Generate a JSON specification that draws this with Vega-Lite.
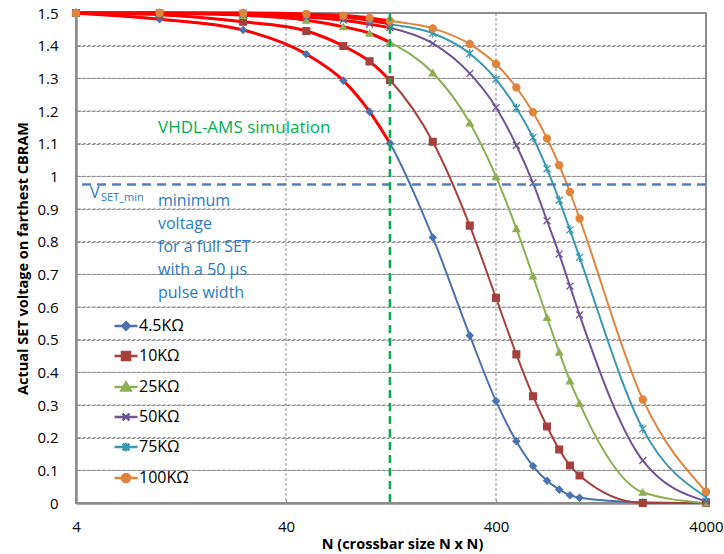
{
  "$schema": "https://vega.github.io/schema/vega-lite/v6.json",
  "width": 630,
  "height": 490,
  "autosize": {"type": "none"},
  "padding": {"left": 76, "top": 13, "right": 18, "bottom": 51},
  "background": "white",
  "config": {
    "view": {"stroke": "#8c8c8c", "strokeWidth": 2},
    "font": "Open Sans",
    "axis": {
      "domainColor": "#8c8c8c",
      "domainWidth": 2.5,
      "tickColor": "#8c8c8c",
      "tickWidth": 1,
      "tickSize": -4,
      "grid": false,
      "labelFont": "Open Sans",
      "labelFontSize": 15,
      "labelColor": "#000000",
      "titleFont": "Open Sans",
      "titleFontWeight": "bold",
      "titleFontSize": 14.5,
      "titleColor": "#000000"
    }
  },
  "resolve": {"scale": {"color": "independent", "stroke": "independent", "shape": "independent", "size": "independent"}},
  "datasets": {
    "xgrid": [{"g": 40}, {"g": 400}],
    "curves": [
      {"N": 4, "V": 1.499, "R": "4.5KΩ"},
      {"N": 10, "V": 1.481, "R": "4.5KΩ"},
      {"N": 25, "V": 1.448, "R": "4.5KΩ"},
      {"N": 50, "V": 1.374, "R": "4.5KΩ"},
      {"N": 75, "V": 1.293, "R": "4.5KΩ"},
      {"N": 100, "V": 1.198, "R": "4.5KΩ"},
      {"N": 125, "V": 1.101, "R": "4.5KΩ"},
      {"N": 200, "V": 0.813, "R": "4.5KΩ"},
      {"N": 300, "V": 0.513, "R": "4.5KΩ"},
      {"N": 400, "V": 0.312, "R": "4.5KΩ"},
      {"N": 500, "V": 0.189, "R": "4.5KΩ"},
      {"N": 600, "V": 0.113, "R": "4.5KΩ"},
      {"N": 700, "V": 0.068, "R": "4.5KΩ"},
      {"N": 800, "V": 0.041, "R": "4.5KΩ"},
      {"N": 900, "V": 0.024, "R": "4.5KΩ"},
      {"N": 1000, "V": 0.016, "R": "4.5KΩ"},
      {"N": 2000, "V": 0.002, "R": "4.5KΩ"},
      {"N": 4000, "V": 0.0, "R": "4.5KΩ"},

      {"N": 4, "V": 1.5, "R": "10KΩ"},
      {"N": 10, "V": 1.495, "R": "10KΩ"},
      {"N": 25, "V": 1.473, "R": "10KΩ"},
      {"N": 50, "V": 1.445, "R": "10KΩ"},
      {"N": 75, "V": 1.399, "R": "10KΩ"},
      {"N": 100, "V": 1.352, "R": "10KΩ"},
      {"N": 125, "V": 1.295, "R": "10KΩ"},
      {"N": 200, "V": 1.106, "R": "10KΩ"},
      {"N": 300, "V": 0.849, "R": "10KΩ"},
      {"N": 400, "V": 0.628, "R": "10KΩ"},
      {"N": 500, "V": 0.455, "R": "10KΩ"},
      {"N": 600, "V": 0.327, "R": "10KΩ"},
      {"N": 700, "V": 0.234, "R": "10KΩ"},
      {"N": 800, "V": 0.164, "R": "10KΩ"},
      {"N": 900, "V": 0.115, "R": "10KΩ"},
      {"N": 1000, "V": 0.084, "R": "10KΩ"},
      {"N": 2000, "V": 0.0, "R": "10KΩ"},
      {"N": 4000, "V": 0.0, "R": "10KΩ"},

      {"N": 4, "V": 1.5, "R": "25KΩ"},
      {"N": 10, "V": 1.499, "R": "25KΩ"},
      {"N": 25, "V": 1.493, "R": "25KΩ"},
      {"N": 50, "V": 1.478, "R": "25KΩ"},
      {"N": 75, "V": 1.458, "R": "25KΩ"},
      {"N": 100, "V": 1.438, "R": "25KΩ"},
      {"N": 125, "V": 1.41, "R": "25KΩ"},
      {"N": 200, "V": 1.317, "R": "25KΩ"},
      {"N": 300, "V": 1.164, "R": "25KΩ"},
      {"N": 400, "V": 0.999, "R": "25KΩ"},
      {"N": 500, "V": 0.84, "R": "25KΩ"},
      {"N": 600, "V": 0.695, "R": "25KΩ"},
      {"N": 700, "V": 0.568, "R": "25KΩ"},
      {"N": 800, "V": 0.462, "R": "25KΩ"},
      {"N": 900, "V": 0.374, "R": "25KΩ"},
      {"N": 1000, "V": 0.305, "R": "25KΩ"},
      {"N": 2000, "V": 0.033, "R": "25KΩ"},
      {"N": 4000, "V": 0.0, "R": "25KΩ"},

      {"N": 4, "V": 1.5, "R": "50KΩ"},
      {"N": 10, "V": 1.5, "R": "50KΩ"},
      {"N": 25, "V": 1.497, "R": "50KΩ"},
      {"N": 50, "V": 1.488, "R": "50KΩ"},
      {"N": 75, "V": 1.478, "R": "50KΩ"},
      {"N": 100, "V": 1.466, "R": "50KΩ"},
      {"N": 125, "V": 1.455, "R": "50KΩ"},
      {"N": 200, "V": 1.407, "R": "50KΩ"},
      {"N": 300, "V": 1.315, "R": "50KΩ"},
      {"N": 400, "V": 1.211, "R": "50KΩ"},
      {"N": 500, "V": 1.095, "R": "50KΩ"},
      {"N": 600, "V": 0.98, "R": "50KΩ"},
      {"N": 700, "V": 0.864, "R": "50KΩ"},
      {"N": 800, "V": 0.762, "R": "50KΩ"},
      {"N": 900, "V": 0.664, "R": "50KΩ"},
      {"N": 1000, "V": 0.576, "R": "50KΩ"},
      {"N": 2000, "V": 0.13, "R": "50KΩ"},
      {"N": 4000, "V": 0.005, "R": "50KΩ"},

      {"N": 4, "V": 1.5, "R": "75KΩ"},
      {"N": 10, "V": 1.5, "R": "75KΩ"},
      {"N": 25, "V": 1.499, "R": "75KΩ"},
      {"N": 50, "V": 1.495, "R": "75KΩ"},
      {"N": 75, "V": 1.488, "R": "75KΩ"},
      {"N": 100, "V": 1.478, "R": "75KΩ"},
      {"N": 125, "V": 1.466, "R": "75KΩ"},
      {"N": 200, "V": 1.438, "R": "75KΩ"},
      {"N": 300, "V": 1.376, "R": "75KΩ"},
      {"N": 400, "V": 1.297, "R": "75KΩ"},
      {"N": 500, "V": 1.209, "R": "75KΩ"},
      {"N": 600, "V": 1.119, "R": "75KΩ"},
      {"N": 700, "V": 1.023, "R": "75KΩ"},
      {"N": 800, "V": 0.927, "R": "75KΩ"},
      {"N": 900, "V": 0.836, "R": "75KΩ"},
      {"N": 1000, "V": 0.752, "R": "75KΩ"},
      {"N": 2000, "V": 0.227, "R": "75KΩ"},
      {"N": 4000, "V": 0.018, "R": "75KΩ"},

      {"N": 4, "V": 1.5, "R": "100KΩ"},
      {"N": 10, "V": 1.5, "R": "100KΩ"},
      {"N": 25, "V": 1.5, "R": "100KΩ"},
      {"N": 50, "V": 1.497, "R": "100KΩ"},
      {"N": 75, "V": 1.492, "R": "100KΩ"},
      {"N": 100, "V": 1.485, "R": "100KΩ"},
      {"N": 125, "V": 1.476, "R": "100KΩ"},
      {"N": 200, "V": 1.453, "R": "100KΩ"},
      {"N": 300, "V": 1.405, "R": "100KΩ"},
      {"N": 400, "V": 1.344, "R": "100KΩ"},
      {"N": 500, "V": 1.272, "R": "100KΩ"},
      {"N": 600, "V": 1.196, "R": "100KΩ"},
      {"N": 700, "V": 1.116, "R": "100KΩ"},
      {"N": 800, "V": 1.034, "R": "100KΩ"},
      {"N": 900, "V": 0.952, "R": "100KΩ"},
      {"N": 1000, "V": 0.871, "R": "100KΩ"},
      {"N": 2000, "V": 0.317, "R": "100KΩ"},
      {"N": 4000, "V": 0.035, "R": "100KΩ"}
    ]
  },
  "layer": [
    {
      "data": {"name": "xgrid"},
      "mark": {"type": "rule", "color": "#8c8c8c", "strokeWidth": 1, "strokeDash": [3, 2]},
      "encoding": {
        "x": {"field": "g", "type": "quantitative"}
      }
    },
    {
      "data": {"values": [{"yg": 0.1}, {"yg": 0.2}, {"yg": 0.3}, {"yg": 0.4}, {"yg": 0.5}, {"yg": 0.6}, {"yg": 0.7}, {"yg": 0.8}, {"yg": 0.9}, {"yg": 1.0}, {"yg": 1.1}, {"yg": 1.2}, {"yg": 1.3}, {"yg": 1.4}]},
      "mark": {"type": "rule", "color": "#8c8c8c", "strokeWidth": 1, "strokeDash": [3, 2]},
      "encoding": {
        "y": {"field": "yg", "type": "quantitative"}
      }
    },
    {
      "data": {"name": "curves"},
      "mark": {"type": "line", "interpolate": "monotone", "strokeWidth": 2},
      "encoding": {
        "x": {
          "field": "N", "type": "quantitative",
          "scale": {"type": "log", "domain": [4, 4000], "nice": false},
          "axis": {
            "title": "N (crossbar size N x N)",
            "values": [4, 40, 400, 4000],
            "format": "d",
            "labelPadding": 20,
            "labelFlush": false,
            "labelOverlap": false,
            "titlePadding": 3,
            "titleX": 326
          }
        },
        "y": {
          "field": "V", "type": "quantitative",
          "scale": {"domain": [0, 1.5], "nice": false},
          "axis": {
            "title": "Actual SET voltage on farthest CBRAM",
            "values": [0,0.1,0.2,0.3,0.4,0.5,0.6,0.7,0.8,0.9,1,1.1,1.2,1.3,1.4,1.5],
            "tickCount": 16,
            "format": "~g",
            "grid": true,
            "gridColor": "#8c8c8c",
            "gridDash": [3, 2],
            "gridWidth": 1,
            "labelPadding": 22,
            "labelFlush": false,
            "labelOverlap": false,
            "titlePadding": 6
          }
        },
        "color": {
          "field": "R", "type": "nominal",
          "scale": {
            "domain": ["4.5KΩ", "10KΩ", "25KΩ", "50KΩ", "75KΩ", "100KΩ"],
            "range": ["#4a72b0", "#a5403c", "#8eae52", "#6e5496", "#3a98b0", "#e0843c"]
          },
          "legend": null
        }
      }
    },
    {
      "data": {"name": "curves"},
      "transform": [{"filter": "datum.N <= 125"}],
      "mark": {"type": "line", "interpolate": "monotone", "color": "#ff0000", "strokeWidth": 3},
      "encoding": {
        "x": {"field": "N", "type": "quantitative"},
        "y": {"field": "V", "type": "quantitative"},
        "detail": {"field": "R", "type": "nominal"}
      }
    },
    {
      "data": {"name": "curves"},
      "mark": {"type": "point", "filled": true, "strokeWidth": 1.3, "opacity": 1},
      "encoding": {
        "x": {"field": "N", "type": "quantitative"},
        "y": {"field": "V", "type": "quantitative"},
        "color": {
          "field": "R", "type": "nominal", "legend": null,
          "scale": {
            "domain": ["4.5KΩ", "10KΩ", "25KΩ", "50KΩ", "75KΩ", "100KΩ"],
            "range": ["#4a72b0", "#a5403c", "#8eae52", "#6e5496", "#3a98b0", "#e0843c"]
          }
        },
        "stroke": {
          "field": "R", "type": "nominal", "legend": null,
          "scale": {
            "domain": ["4.5KΩ", "10KΩ", "25KΩ", "50KΩ", "75KΩ", "100KΩ"],
            "range": ["#4a72b0", "#a5403c", "#8eae52", "#6e5496", "#3a98b0", "#e0843c"]
          }
        },
        "size": {
          "field": "R", "type": "nominal", "legend": null,
          "scale": {
            "domain": ["4.5KΩ", "10KΩ", "25KΩ", "50KΩ", "75KΩ", "100KΩ"],
            "range": [45, 50, 55, 36, 36, 55]
          }
        },
        "shape": {
          "field": "R", "type": "nominal", "legend": null,
          "scale": {
            "domain": ["4.5KΩ", "10KΩ", "25KΩ", "50KΩ", "75KΩ", "100KΩ"],
            "range": ["diamond", "square", "triangle-up", "M-1,-1L1,1M-1,1L1,-1", "M-1,-1L1,1M-1,1L1,-1M0,-1.3L0,1.3", "circle"]
          }
        }
      }
    },
    {
      "data": {"name": "curves"},
      "transform": [{"filter": "datum.N < 0"}],
      "mark": {"type": "point", "filled": true, "opacity": 1},
      "encoding": {
        "x": {"field": "N", "type": "quantitative"},
        "y": {"field": "V", "type": "quantitative"},
        "color": {
          "field": "R", "type": "nominal",
          "scale": {
            "domain": ["4.5KΩ", "10KΩ", "25KΩ", "50KΩ", "75KΩ", "100KΩ"],
            "range": ["#4a72b0", "#a5403c", "#8eae52", "#6e5496", "#3a98b0", "#e0843c"]
          },
          "legend": {
            "title": null, "orient": "none", "legendX": 37, "legendY": 300, "padding": 0,
            "labelFont": "Open Sans", "labelFontSize": 16, "labelColor": "#000000", "labelOffset": 0,
            "symbolSize": 529, "symbolStrokeWidth": 2.5, "symbolOpacity": 1, "rowPadding": 8
          }
        },
        "stroke": {
          "field": "R", "type": "nominal",
          "scale": {
            "domain": ["4.5KΩ", "10KΩ", "25KΩ", "50KΩ", "75KΩ", "100KΩ"],
            "range": ["#4a72b0", "#a5403c", "#8eae52", "#6e5496", "#3a98b0", "#e0843c"]
          },
          "legend": {
            "title": null, "orient": "none", "legendX": 37, "legendY": 300, "padding": 0,
            "labelFont": "Open Sans", "labelFontSize": 16, "labelColor": "#000000", "labelOffset": 0,
            "symbolSize": 529, "symbolStrokeWidth": 2.5, "symbolOpacity": 1, "rowPadding": 8
          }
        },
        "shape": {
          "field": "R", "type": "nominal",
          "scale": {
            "domain": ["4.5KΩ", "10KΩ", "25KΩ", "50KΩ", "75KΩ", "100KΩ"],
            "range": [
              "M-1,0L1,0M0,-0.33L0.33,0L0,0.33L-0.33,0Z",
              "M-1,0L1,0M-0.35,-0.35L0.35,-0.35L0.35,0.35L-0.35,0.35Z",
              "M-1,0L1,0M0,-0.4L0.4,0.3L-0.4,0.3Z",
              "M-1,0L1,0M-0.3,-0.3L0.3,0.3M-0.3,0.3L0.3,-0.3",
              "M-1,0L1,0M-0.3,-0.3L0.3,0.3M-0.3,0.3L0.3,-0.3M0,-0.38L0,0.38",
              "M-1,0L1,0M0.35,0A0.35,0.35,0,1,1,-0.35,0A0.35,0.35,0,1,1,0.35,0Z"
            ]
          },
          "legend": {
            "title": null, "orient": "none", "legendX": 37, "legendY": 300, "padding": 0,
            "labelFont": "Open Sans", "labelFontSize": 16, "labelColor": "#000000", "labelOffset": 0,
            "symbolSize": 529, "symbolStrokeWidth": 2.5, "symbolOpacity": 1, "rowPadding": 8
          }
        }
      }
    },
    {
      "data": {"values": [{"level": 0.975}]},
      "mark": {"type": "rule", "color": "#4f81bd", "strokeWidth": 2.5, "strokeDash": [9, 6]},
      "encoding": {"y": {"field": "level", "type": "quantitative"}}
    },
    {
      "data": {"values": [{"limit": 125}]},
      "mark": {"type": "rule", "color": "#00b050", "strokeWidth": 2.5, "strokeDash": [8, 5]},
      "encoding": {"x": {"field": "limit", "type": "quantitative"}}
    },
    {
      "data": {"values": [{"N": 25.3, "V": 1.147, "label": "VHDL-AMS simulation"}]},
      "mark": {"type": "text", "font": "Open Sans", "fontSize": 17, "color": "#00b050", "align": "center", "baseline": "middle"},
      "encoding": {
        "x": {"field": "N", "type": "quantitative"},
        "y": {"field": "V", "type": "quantitative"},
        "text": {"field": "label"}
      }
    },
    {
      "data": {"values": [{"N": 4.66, "V": 0.934, "label": "V"}]},
      "mark": {"type": "text", "font": "Open Sans", "fontSize": 16, "color": "#2a7bc4", "align": "left", "baseline": "alphabetic"},
      "encoding": {
        "x": {"field": "N", "type": "quantitative"},
        "y": {"field": "V", "type": "quantitative"},
        "text": {"field": "label"}
      }
    },
    {
      "data": {"values": [{"N": 5.26, "V": 0.924, "label": "SET_min"}]},
      "mark": {"type": "text", "font": "Open Sans", "fontSize": 11, "color": "#2a7bc4", "align": "left", "baseline": "alphabetic"},
      "encoding": {
        "x": {"field": "N", "type": "quantitative"},
        "y": {"field": "V", "type": "quantitative"},
        "text": {"field": "label"}
      }
    },
    {
      "data": {"values": [{"N": 9.83, "V": 0.949, "label": "minimum\nvoltage\nfor a full SET\nwith a 50 µs\npulse width"}]},
      "mark": {"type": "text", "font": "Open Sans", "fontSize": 16, "color": "#2a7bc4", "align": "left", "baseline": "top", "lineBreak": "\n", "lineHeight": 23},
      "encoding": {
        "x": {"field": "N", "type": "quantitative"},
        "y": {"field": "V", "type": "quantitative"},
        "text": {"field": "label"}
      }
    }
  ]
}
